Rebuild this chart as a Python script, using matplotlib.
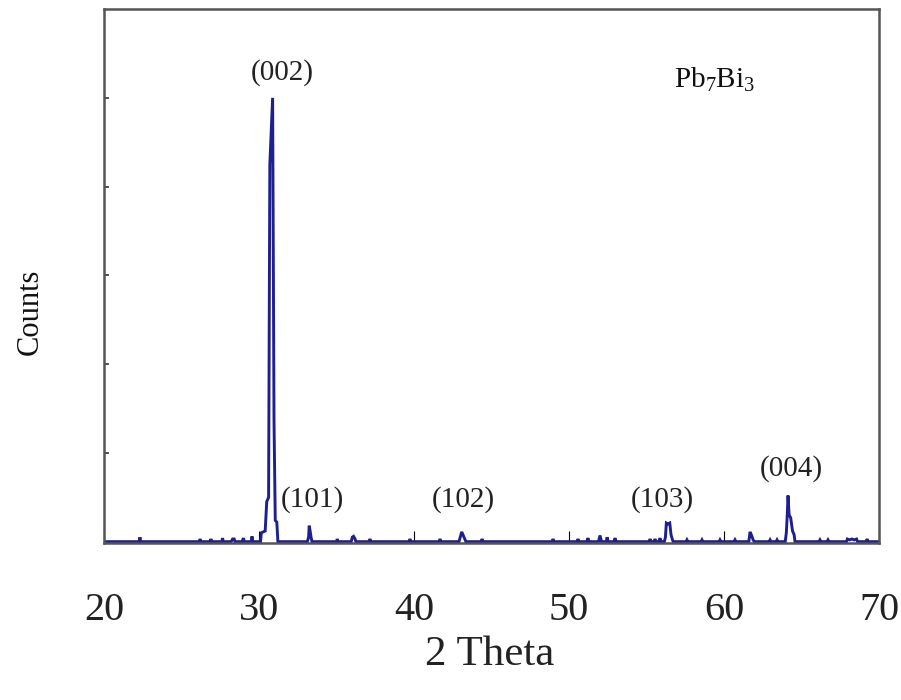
import matplotlib
matplotlib.use("Agg")
import matplotlib.pyplot as plt

plt.rcParams["font.family"] = ["Liberation Serif", "DejaVu Serif"]
plt.rcParams["mathtext.fontset"] = "custom"
plt.rcParams["mathtext.rm"] = "Liberation Serif"
plt.rcParams["mathtext.it"] = "Liberation Serif:italic"

# XRD pattern of Pb7Bi3 (intensity in thousands of counts)
two_theta = [
    20.00, 22.28, 22.32, 22.36,
    26.15, 26.20, 26.25, 26.85, 26.90, 26.95,
    27.60, 27.65, 27.70, 28.20, 28.30, 28.40, 28.45,
    28.90, 29.00, 29.05, 29.50, 29.55, 29.60,
    30.10, 30.15, 30.40, 30.50, 30.62, 30.70, 30.88, 30.97, 31.05, 31.15, 31.22,
    33.12, 33.20, 33.24, 33.30, 33.36, 33.42,
    35.00, 35.05, 35.10,
    35.95, 36.02, 36.10, 36.20, 36.25,
    37.10, 37.16, 37.22,
    39.68, 39.74, 39.80, 41.62, 41.68, 41.74,
    42.90, 43.00, 43.08, 43.18, 43.28, 43.35,
    44.33, 44.39, 44.45, 48.91, 48.97, 49.03,
    50.52, 50.58, 50.64,
    51.15, 51.22, 51.30, 51.90, 52.00, 52.10, 52.40, 52.46, 52.52, 52.90, 52.97, 53.04,
    55.17, 55.23, 55.29, 55.49, 55.55, 55.61, 55.80, 55.87, 55.94,
    56.15, 56.22, 56.28, 56.38, 56.50, 56.58, 56.66, 56.72,
    57.55, 57.61, 57.67, 58.52, 58.58, 58.64, 59.68, 59.74, 59.80,
    60.65, 60.71, 60.77,
    61.60, 61.68, 61.78, 61.88, 61.95,
    62.91, 62.97, 63.03, 63.36, 63.42, 63.48,
    63.95, 64.02, 64.08, 64.13, 64.20, 64.30, 64.42, 64.52, 64.58,
    66.13, 66.19, 66.25, 66.65, 66.71, 66.77,
    67.90, 67.96, 68.10, 68.25, 68.40, 68.55, 68.62,
    69.17, 69.23, 69.29, 70.00,
]
counts = [
    0.00, 0.00, 0.05, 0.00,
    0.00, 0.03, 0.00, 0.00, 0.03, 0.00,
    0.00, 0.04, 0.00, 0.00, 0.03, 0.03, 0.00,
    0.00, 0.04, 0.00, 0.00, 0.06, 0.00,
    0.00, 0.10, 0.12, 0.45, 0.50, 4.25, 5.00, 1.35, 0.24, 0.22, 0.00,
    0.00, 0.05, 0.18, 0.12, 0.05, 0.00,
    0.00, 0.03, 0.00,
    0.00, 0.05, 0.06, 0.03, 0.00,
    0.00, 0.03, 0.00,
    0.00, 0.03, 0.00, 0.00, 0.03, 0.00,
    0.00, 0.06, 0.11, 0.07, 0.03, 0.00,
    0.00, 0.03, 0.00, 0.00, 0.03, 0.00,
    0.00, 0.03, 0.00,
    0.00, 0.04, 0.00, 0.00, 0.07, 0.00, 0.00, 0.05, 0.00, 0.00, 0.04, 0.00,
    0.00, 0.03, 0.00, 0.00, 0.03, 0.00, 0.00, 0.04, 0.00,
    0.00, 0.05, 0.21, 0.20, 0.21, 0.08, 0.03, 0.00,
    0.00, 0.02, 0.00, 0.00, 0.02, 0.00, 0.00, 0.02, 0.00,
    0.00, 0.02, 0.00,
    0.00, 0.11, 0.07, 0.02, 0.00,
    0.00, 0.02, 0.00, 0.00, 0.02, 0.00,
    0.00, 0.10, 0.30, 0.52, 0.30, 0.27, 0.12, 0.08, 0.00,
    0.00, 0.02, 0.00, 0.00, 0.02, 0.00,
    0.00, 0.03, 0.02, 0.03, 0.02, 0.03, 0.00,
    0.00, 0.03, 0.00, 0.00,
]

# Miller-index labels with their placement (2theta, height)
peak_labels = ["(002)", "(101)", "(102)", "(103)", "(004)"]
label_x = [31.48, 33.42, 43.16, 56.0, 64.32]
label_y = [5.28, 0.47, 0.47, 0.47, 0.82]

x_ticks = [20, 30, 40, 50, 60, 70]
y_ticks = [1, 2, 3, 4, 5]

fig = plt.figure(figsize=(9.01, 7.0), dpi=100)
ax = fig.add_axes([0.1154, 0.2243, 0.8602, 0.7627])

ax.plot(two_theta, counts, color="#1f1f8f", lw=2.1, solid_joinstyle="miter")

for txt, x, y in zip(peak_labels, label_x, label_y):
    ax.text(x, y, txt, ha="center", va="center", fontsize=21, color="#222222")
ax.text(59.4, 5.2, r"Pb$_7$Bi$_3$", ha="center", va="center", fontsize=21, color="#111111")

ax.set_xlim(20, 70)
ax.set_ylim(-0.015, 6.0)
ax.set_xticks(x_ticks)
ax.set_xticklabels([str(t) for t in x_ticks])
ax.set_yticks(y_ticks)
ax.set_yticklabels([])

ax.tick_params(axis="x", direction="in", length=9, width=0.8, color="black",
               labelsize=29, pad=35, labelcolor="#222222")
ax.tick_params(axis="y", direction="in", length=3.5, width=1.2, color="#333333")

for side in ["left", "top", "right", "bottom"]:
    ax.spines[side].set_linewidth(1.8)
    ax.spines[side].set_color("#555555")

fig.text(490 / 901, 1 - 655 / 700, "2 Theta", ha="center", va="center",
         fontsize=31, color="#222222")
fig.text(30 / 901, 1 - 312 / 700, "Counts", ha="center", va="center",
         rotation=90, fontsize=22, color="#111111")

fig.savefig("out.png", dpi=100)
